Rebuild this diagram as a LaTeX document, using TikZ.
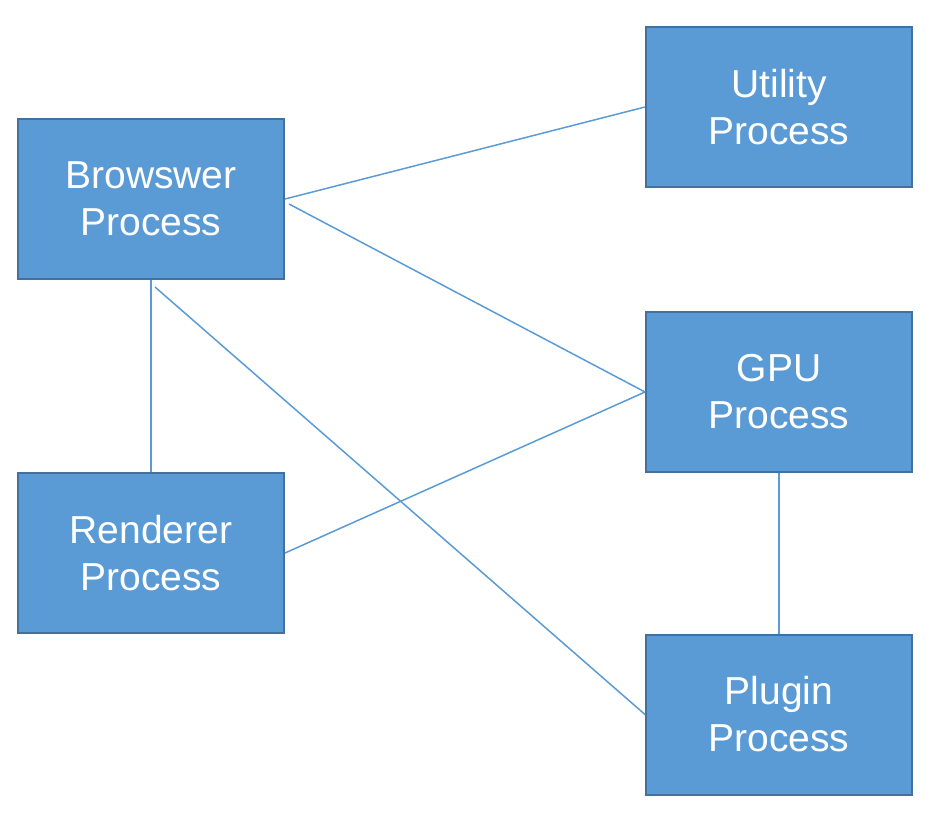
\documentclass[tikz,border=0pt]{standalone}
\usepackage{fontspec}
\setmainfont{Liberation Sans}
\definecolor{boxfill}{RGB}{91,155,213}
\definecolor{boxline}{RGB}{65,113,156}
\definecolor{conn}{RGB}{91,155,213}
\begin{document}
\begin{tikzpicture}[x=1pt,y=-1pt,
  proc/.style={draw=boxline,fill=boxfill,line width=2pt,minimum width=266pt,minimum height=160pt,
    inner sep=0pt,text=white,align=center,font=\fontsize{39}{47}\selectfont},
  link/.style={draw=conn,line width=1.5pt}]
\useasboundingbox (0,0) rectangle (928,820);
\node[proc] (b) at (151,199) {Browswer\\Process};
\node[proc] (u) at (779,107) {Utility\\Process};
\node[proc] (g) at (779,392) {GPU\\Process};
\node[proc] (r) at (151,553) {Renderer\\Process};
\node[proc] (p) at (779,714.5) {Plugin\\Process};
\coordinate (b2) at ([shift={(4,5)}]b.east);
\coordinate (b3) at ([shift={(4,7)}]b.south);
\draw[link] (b.east) -- (u.west);
\draw[link] (b2) -- (g.west);
\draw[link] (b3) -- (p.west);
\draw[link] (b.south) -- (r.north);
\draw[link] (r.east) -- (g.west);
\draw[link] (g.south) -- (p.north);
\end{tikzpicture}
\end{document}
